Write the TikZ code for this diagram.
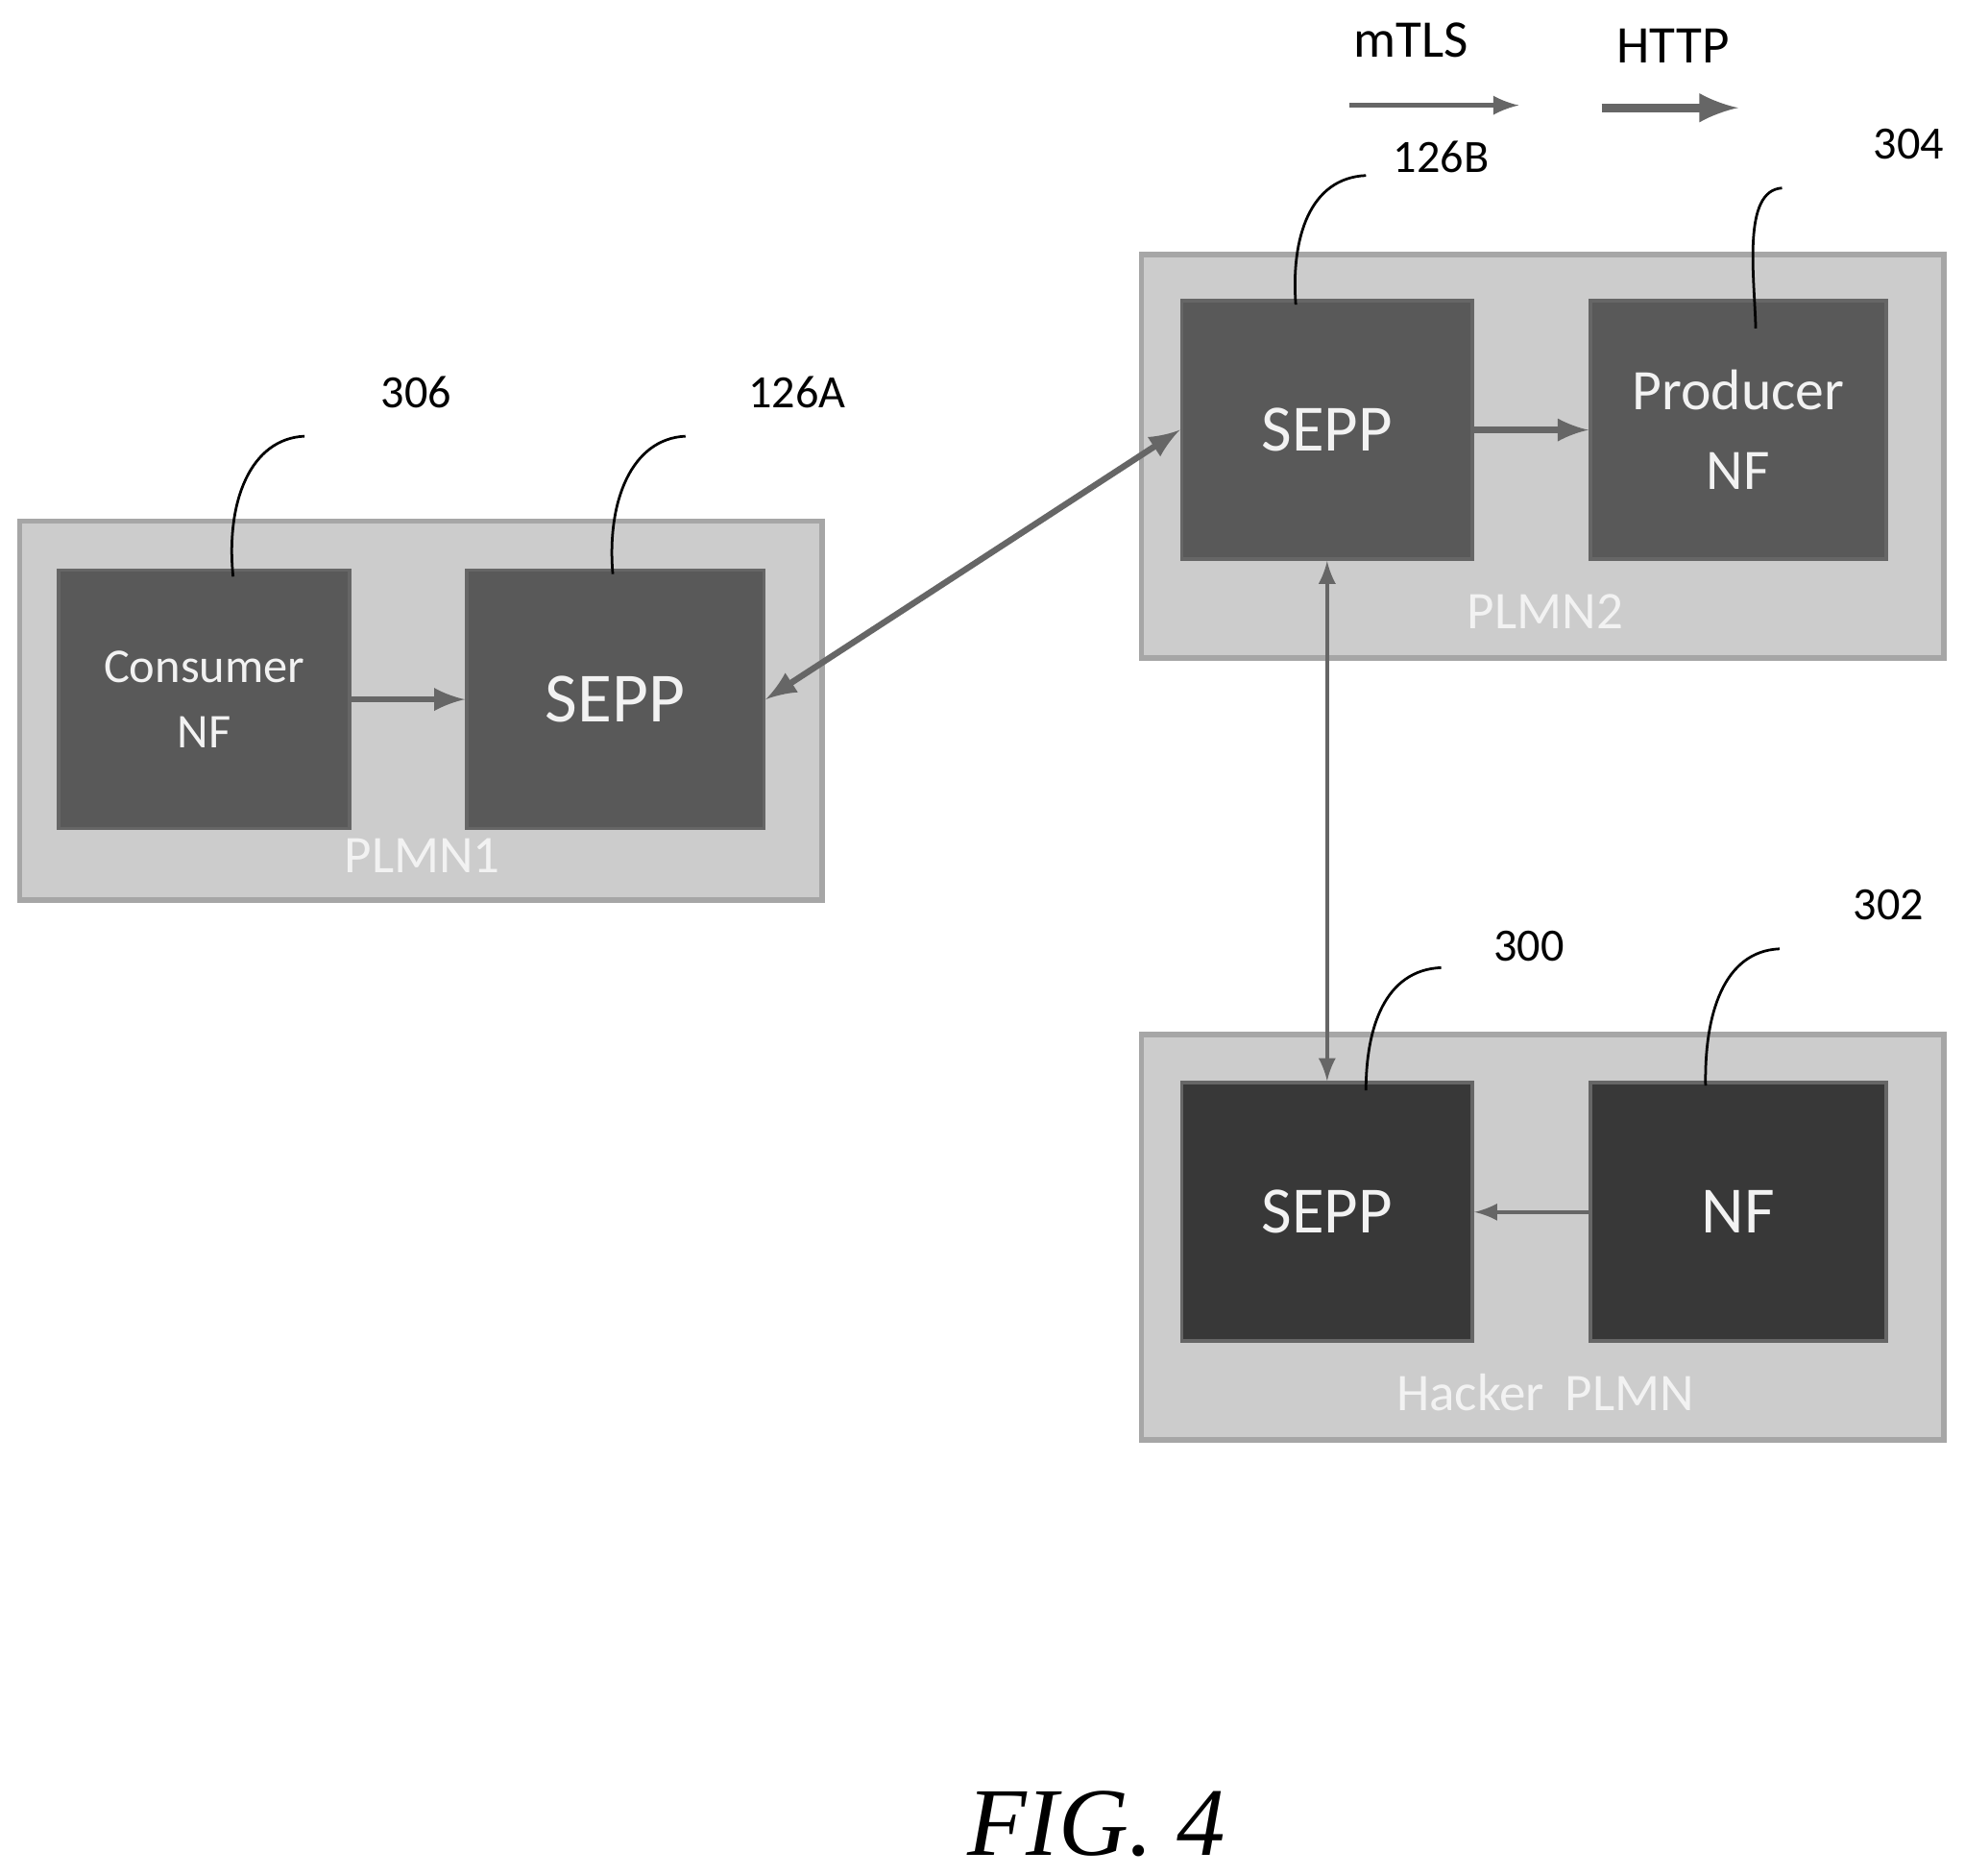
\documentclass[tikz,border=0pt]{standalone}
\usepackage{fontspec}
\setmainfont{Carlito}
\newfontfamily\figfont{Liberation Serif}
\usetikzlibrary{positioning}
\tikzset{
  plmn/.style={draw=gray!70, fill=gray!40, line width=1.2pt, inner sep=0pt},
  nf/.style={draw=gray!80!black, fill=black!65, text=white!90!gray, line width=0.8pt, align=center, inner sep=0pt, minimum width=2.32cm, minimum height=2.06cm},
  hk/.style={nf, fill=black!78},
  tag/.style={font=\fontsize{10.5}{12}\selectfont},
  lead/.style={line width=0.6pt},
  link/.style={draw=black!60, line width=1.4pt, -latex},
}
\begin{document}
\begin{tikzpicture}[x=0.01cm, y=-0.01cm]
\useasboundingbox (0,0) rectangle (1568,1496);
% legend
\node[tag, font=\fontsize{12}{14}\selectfont] (mtls) at (1126,32) {mTLS};
\node[tag, font=\fontsize{12}{14}\selectfont] (http) at (1335,37) {HTTP};
\coordinate (m1) at (1077,84); \coordinate (m2) at (1212,84);
\coordinate (h1) at (1278,86); \coordinate (h2) at (1387,86);
\draw[draw=black!60, line width=1pt, -latex] (m1) -- (m2);
\draw[link, line width=2pt] (h1) -- (h2);
% PLMN1
\node[plmn, minimum width=6.4cm, minimum height=3.02cm] (plmn1) at (336,567) {};
\node[nf, font=\fontsize{11}{15}\selectfont] (cons) at (163,558) {Consumer\\NF};
\node[nf, minimum width=2.37cm, font=\fontsize{16}{18}\selectfont] (sepp1) at (491,558) {SEPP};
\node[text=white!90!gray, font=\fontsize{12}{14}\selectfont] at (337,683) {PLMN1};
% PLMN2
\node[plmn, minimum width=6.4cm, minimum height=3.22cm] (plmn2) at (1231,364) {};
\node[nf, font=\fontsize{15}{18}\selectfont] (sepp2) at (1059,343) {SEPP};
\node[nf, minimum width=2.36cm, font=\fontsize{13}{18}\selectfont] (prod) at (1387,343) {Producer\\NF};
\node[text=white!90!gray, font=\fontsize{12}{14}\selectfont] at (1233,488) {PLMN2};
% Hacker PLMN
\node[plmn, minimum width=6.4cm, minimum height=3.23cm] (hack) at (1231,987) {};
\node[hk, font=\fontsize{15}{18}\selectfont] (sepp3) at (1059,967) {SEPP};
\node[hk, minimum width=2.36cm, font=\fontsize{15}{18}\selectfont] (nfh) at (1387,967) {NF};
\node[text=white!90!gray, font=\fontsize{12}{14}\selectfont] at (1233,1111) {Hacker\, PLMN};
% connectors
\draw[link] (cons) -- (sepp1);
\draw[link, latex-latex] (sepp1.east) -- (sepp2.west);
\draw[link] (sepp2) -- (prod);
\draw[draw=black!60, line width=0.8pt, latex-latex] (sepp2.south) -- (sepp3.north);
\draw[draw=black!60, line width=0.8pt, -latex] (nfh) -- (sepp3);
% reference numerals
\node[tag] (n306) at (332,313) {306};
\node[tag] (n126a) at (636,313) {126A};
\node[tag] (n126b) at (1150,125) {126B};
\node[tag] (n304) at (1523,115) {304};
\node[tag] (n300) at (1220,755) {300};
\node[tag] (n302) at (1507,722) {302};
\draw[lead] (243,348) .. controls (200,350) and (180,400) .. (186,460);
\draw[lead] (547,348) .. controls (504,350) and (484,400) .. (489,458);
\draw[lead] (1090,140) .. controls (1045,142) and (1030,190) .. (1034,243);
\draw[lead] (1422,150) .. controls (1390,152) and (1400,220) .. (1401,262);
\draw[lead] (1150,772) .. controls (1105,774) and (1090,820) .. (1090,870);
\draw[lead] (1420,757) .. controls (1375,759) and (1360,810) .. (1361,866);
% caption
\node[font=\figfont\itshape\fontsize{22}{26}\selectfont] (fig) at (875,1455) {FIG. 4};
\end{tikzpicture}
\end{document}
